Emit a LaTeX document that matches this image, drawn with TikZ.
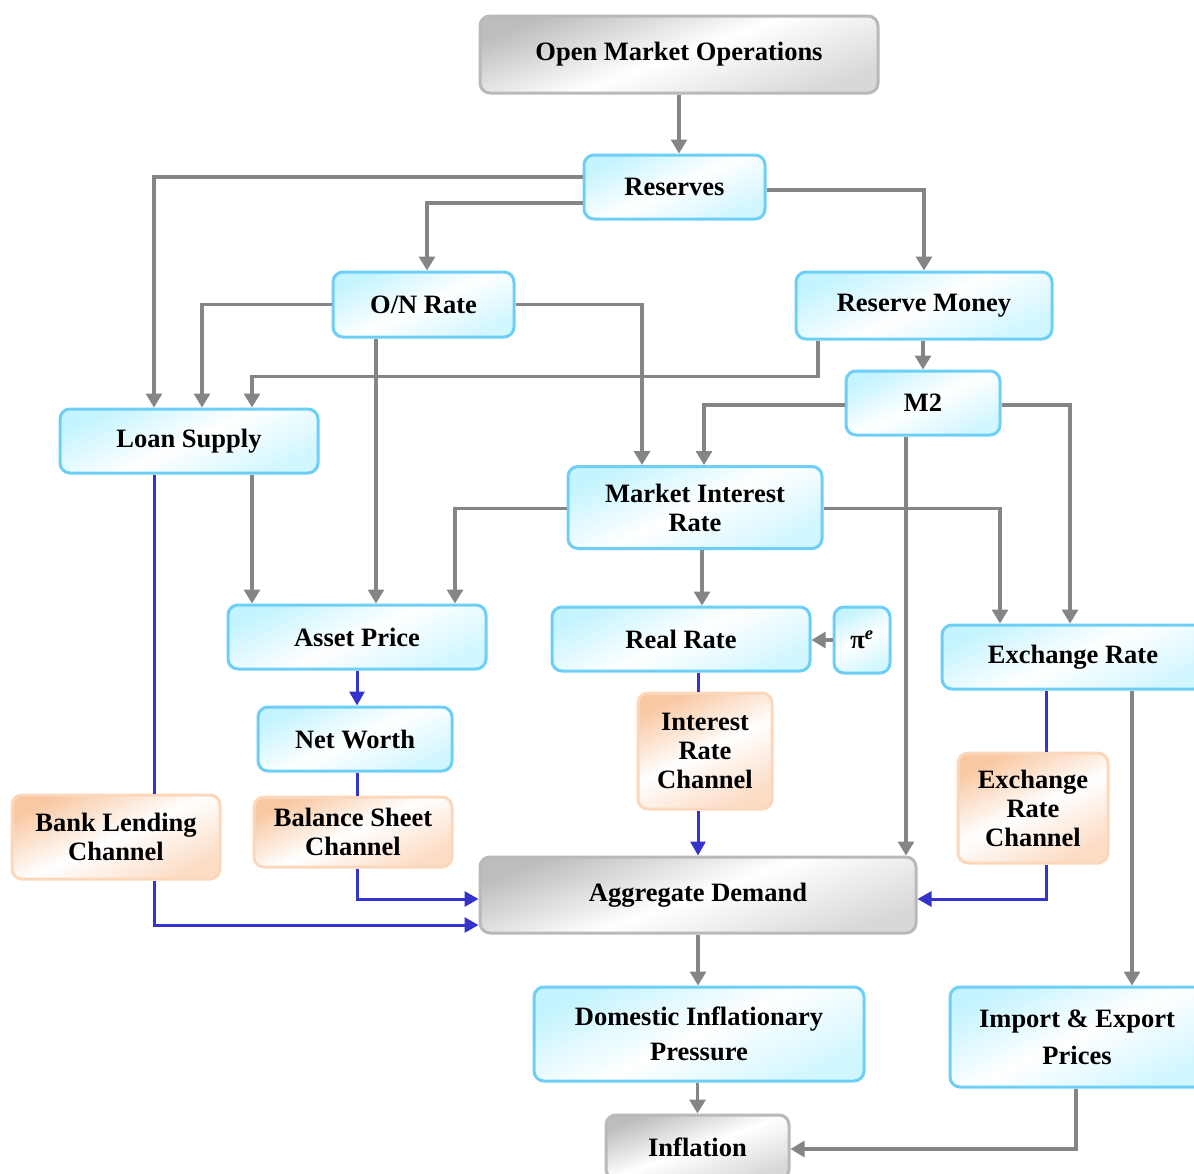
\documentclass[tikz,border=0pt]{standalone}
\usepackage{fontspec}
\setmainfont{Liberation Serif}
\usetikzlibrary{arrows.meta}

\definecolor{lnGray}{HTML}{858585}
\definecolor{lnBlue}{HTML}{3434CC}
\definecolor{bdBlue}{HTML}{6DCFF6}
\definecolor{fiBlue}{HTML}{C4F4FF}
\definecolor{bdOrange}{HTML}{FBD8BC}
\definecolor{fiOrange}{HTML}{F9C8A2}
\definecolor{fiOrangeB}{HTML}{FCDCC4}
\definecolor{bdGray}{HTML}{B9B9B9}
\definecolor{fiGray}{HTML}{BDBDBD}
\definecolor{fiGrayB}{HTML}{D8D8D8}

\begin{document}
\begin{tikzpicture}[x=1pt,y=-1pt,
  basebox/.style={rounded corners=10pt, line width=3pt, inner sep=0pt,
    align=center, text=black,
    font=\fontsize{26.5}{29}\selectfont\bfseries},
  bluebox/.style={basebox, draw=bdBlue,
    top color=fiBlue, bottom color=fiBlue!80, middle color=white, shading angle=25},
  orangebox/.style={basebox, draw=bdOrange,
    top color=fiOrange, bottom color=fiOrangeB, middle color=white, shading angle=25},
  graybox/.style={basebox, draw=bdGray,
    top color=fiGray, bottom color=fiGrayB, middle color=white, shading angle=20},
  gline/.style={draw=lnGray, line width=3.2pt},
  garrow/.style={gline, -{Triangle[width=16pt,length=14pt]}},
  bline/.style={draw=lnBlue, line width=3pt},
  barrow/.style={bline, -{Triangle[width=15pt,length=14pt]}}
]
\useasboundingbox (0,0) rectangle (1194,1173);
\clip (0,0) rectangle (1194,1173);

% ---- boxes ----
\node[graybox, minimum width=398pt, minimum height=77pt] (omo) at (679,54.5) {Open Market Operations};
\node[bluebox, minimum width=181pt, minimum height=64pt] (res) at (674.5,187) {Reserves};
\node[bluebox, minimum width=181pt, minimum height=65pt] (onr) at (423.5,304.5) {O/N Rate};
\node[bluebox, minimum width=256pt, minimum height=67pt] (rm) at (924,305.5) {Reserve Money};
\node[bluebox, minimum width=154pt, minimum height=64pt] (m2) at (923,403) {M2};
\node[bluebox, minimum width=258pt, minimum height=64pt] (ls) at (189,441) {Loan Supply};
\node[bluebox, minimum width=254pt, minimum height=82pt] (mir) at (695,507.5) {Market Interest\\Rate};
\node[bluebox, minimum width=258pt, minimum height=64pt] (ap) at (357,637) {Asset Price};
\node[bluebox, minimum width=258pt, minimum height=64pt] (rr) at (681,639) {Real Rate};
\node[bluebox, minimum width=56pt, minimum height=66pt] (pie) at (862,640) {π\textsuperscript{\textit{e}}};
\node[bluebox, minimum width=262pt, minimum height=64pt] (er) at (1073,657) {Exchange Rate};
\node[bluebox, minimum width=194pt, minimum height=64pt] (nw) at (355,739) {Net Worth};
\node[orangebox, minimum width=134pt, minimum height=116pt] (irc) at (705,751) {Interest\\Rate\\Channel};
\node[orangebox, minimum width=150pt, minimum height=110pt] (erc) at (1033,808) {Exchange\\Rate\\Channel};
\node[orangebox, minimum width=208pt, minimum height=84pt] (blc) at (116,837) {Bank Lending\\Channel};
\node[orangebox, minimum width=198pt, minimum height=70pt] (bsc) at (353,832) {Balance Sheet\\Channel};
\node[graybox, minimum width=436pt, minimum height=76pt] (ad) at (698,895) {Aggregate Demand};
\node[bluebox, minimum width=330pt, minimum height=94pt] (dip) at (699,1034) {Domestic Inflationary\\[6pt]Pressure};
\node[bluebox, minimum width=254pt, minimum height=100pt] (iep) at (1077,1037) {Import \& Export\\[8pt]Prices};
\node[graybox, minimum width=183pt, minimum height=64pt] (inf) at (697.5,1147) {Inflation};

% ---- gray transmission links ----
\draw[garrow] (omo.south) -- (omo.south |- res.north);
\draw[garrow] ([yshift=10pt]res.west) -| ([xshift=-35pt]ls.north);
\draw[garrow] ([yshift=-16pt]res.west) -| ([xshift=3.5pt]onr.north);
\draw[garrow] ([yshift=-3pt]res.east) -| (rm.north);
\draw[garrow] (onr.west) -| ([xshift=13pt]ls.north);
\draw[garrow] (onr.east) -| ([xshift=-53pt]mir.north);
\draw[garrow] ([xshift=-47.5pt]onr.south) -- ([xshift=-47.5pt]onr.south |- ap.north);
\draw[garrow] ([xshift=-106pt]rm.south) -- ++(0,36) -| ([xshift=63pt]ls.north);
\draw[garrow] (m2.north |- rm.south) -- (m2.north);
\draw[garrow] ([yshift=-2pt]m2.west) -| ([xshift=9pt]mir.north);
\draw[garrow] ([yshift=-2pt]m2.east) -| ([xshift=-3pt]er.north);
\draw[garrow] ([xshift=-17pt]m2.south) -- ([xshift=-17pt]m2.south |- ad.north);
\draw[garrow] ([xshift=63pt]ls.south) -- ([xshift=63pt]ls.south |- ap.north);
\draw[garrow] ([yshift=-1pt]mir.west) -| ([xshift=98pt]ap.north);
\draw[garrow] ([yshift=-1pt]mir.east) -| ([xshift=-73pt]er.north);
\draw[garrow] ([xshift=7pt]mir.south) -- ([xshift=7pt]mir.south |- rr.north);
\draw[garrow] (pie.west) -- (pie.west -| rr.east);
\draw[garrow] ([xshift=59pt]er.south) -- ([xshift=59pt]er.south |- iep.north);
\draw[garrow] (ad.south) -- (ad.south |- dip.north);
\draw[garrow] (dip.south -| inf.north) -- (inf.north);
\draw[garrow] ([xshift=-1pt]iep.south) |- ([yshift=-2pt]inf.east);

% ---- blue channel links ----
\draw[bline] ([xshift=-35pt]ls.south) -- ([xshift=-35pt]ls.south |- blc.north);
\draw[barrow] ([xshift=-35pt]ls.south |- blc.south) |- ([yshift=-30pt]ad.west);
\draw[barrow] (ap.south) -- (ap.south |- nw.north);
\draw[bline] ([xshift=2pt]nw.south) -- ([xshift=2pt]nw.south |- bsc.north);
\draw[barrow] ([xshift=2pt]nw.south |- bsc.south) |- ([yshift=-4pt]ad.west);
\draw[bline] ([xshift=17pt]rr.south) -- ([xshift=17pt]rr.south |- irc.north);
\draw[barrow] ([xshift=17pt]rr.south |- irc.south) -- ([xshift=17pt]rr.south |- ad.north);
\draw[bline] ([xshift=-27pt]er.south) -- ([xshift=-27pt]er.south |- erc.north);
\draw[barrow] ([xshift=-27pt]er.south |- erc.south) |- ([yshift=-4pt]ad.east);
\end{tikzpicture}
\end{document}
